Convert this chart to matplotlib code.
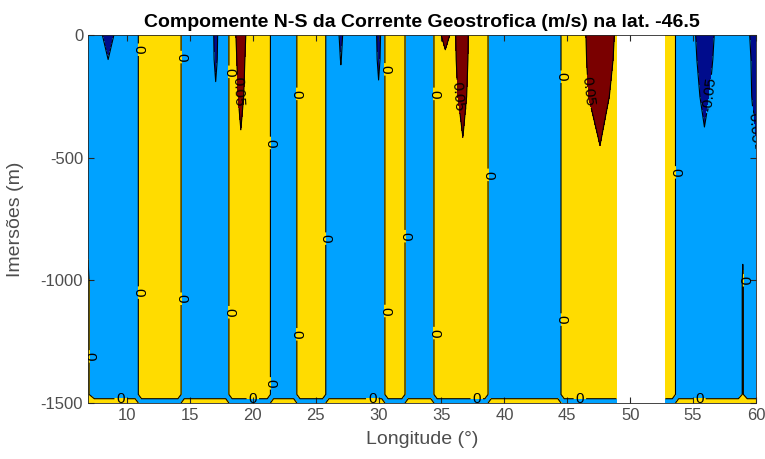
import numpy as np
import matplotlib
matplotlib.use("Agg")
import matplotlib.pyplot as plt

plt.rcParams['font.family'] = ['Liberation Sans', 'DejaVu Sans']
plt.rcParams['axes.unicode_minus'] = False

# station longitudes (deg E) along lat -46.5
lon = [6.9, 7.4, 8.0, 8.5, 9.0, 10.65, 11.15, 14.05, 14.55, 16.8,
       17.05, 17.3, 17.85, 18.35, 18.6, 19.05, 19.5, 21.15, 21.65, 23.25,
       23.75, 25.55, 26.05, 26.75, 27.0, 27.25, 29.75, 30.0, 30.25, 30.75,
       31.85, 32.35, 34.15, 34.65, 35.3, 35.9, 36.7, 37.3, 38.45, 38.95,
       44.25, 44.75, 46.0, 47.6, 48.9, 50.85, 52.8, 53.35, 53.85, 55.0,
       55.9, 56.9, 58.6, 58.95, 59.3, 59.6, 60.0]

# depth levels (m)
depth = [0, -100, -250, -500, -1000, -1465, -1500]

nan = np.nan
# N-S geostrophic velocity (m/s) at each depth level
v_0000 = [-0.02, -0.02, -0.04, -0.16, -0.04, -0.02, 0.02, 0.02, -0.02, -0.02,
          -0.10, -0.02, -0.02, 0.02, 0.04, 0.12, 0.04, 0.02, -0.02, -0.02,
          0.02, 0.02, -0.02, -0.02, -0.09, -0.02, -0.02, -0.10, -0.02, 0.02,
          0.02, -0.02, -0.02, 0.02, 0.08, 0.03, 0.10, 0.03, 0.02, -0.02,
          -0.02, 0.02, 0.02, 0.12, 0.04, nan, 0.02, 0.02, -0.02, -0.03,
          -0.12, -0.03, -0.02, -0.02, -0.03, -0.06, -0.10]
v_0100 = [-0.02, -0.02, -0.025, -0.05, -0.025, -0.02, 0.02, 0.02, -0.02, -0.02,
          -0.08, -0.02, -0.02, 0.02, 0.03, 0.10, 0.03, 0.02, -0.02, -0.02,
          0.02, 0.02, -0.02, -0.02, -0.055, -0.02, -0.02, -0.075, -0.02, 0.02,
          0.02, -0.02, -0.02, 0.02, 0.03, 0.03, 0.09, 0.03, 0.02, -0.02,
          -0.02, 0.02, 0.02, 0.11, 0.035, nan, 0.02, 0.02, -0.02, -0.025,
          -0.10, -0.025, -0.02, -0.02, -0.025, -0.05, -0.09]
v_0250 = [-0.02, -0.02, -0.02, -0.02, -0.02, -0.02, 0.02, 0.02, -0.02, -0.02,
          -0.03, -0.02, -0.02, 0.02, 0.02, 0.08, 0.02, 0.02, -0.02, -0.02,
          0.02, 0.02, -0.02, -0.02, -0.02, -0.02, -0.02, -0.03, -0.02, 0.02,
          0.02, -0.02, -0.02, 0.02, 0.02, 0.02, 0.08, 0.02, 0.02, -0.02,
          -0.02, 0.02, 0.02, 0.09, 0.02, nan, 0.02, 0.02, -0.02, -0.02,
          -0.07, -0.02, -0.02, -0.02, -0.02, -0.045, -0.08]
v_0500 = [-0.02, -0.02, -0.02, -0.02, -0.02, -0.02, 0.02, 0.02, -0.02, -0.02,
          -0.02, -0.02, -0.02, 0.02, 0.02, 0.025, 0.02, 0.02, -0.02, -0.02,
          0.02, 0.02, -0.02, -0.02, -0.02, -0.02, -0.02, -0.02, -0.02, 0.02,
          0.02, -0.02, -0.02, 0.02, 0.02, 0.02, 0.035, 0.02, 0.02, -0.02,
          -0.02, 0.02, 0.02, 0.04, 0.02, nan, 0.02, 0.02, -0.02, -0.02,
          -0.03, -0.02, -0.02, -0.02, -0.02, -0.03, -0.045]
v_1000 = [0.004, -0.02, -0.02, -0.02, -0.02, -0.02, 0.02, 0.02, -0.02, -0.02,
          -0.02, -0.02, -0.02, 0.02, 0.02, 0.02, 0.02, 0.02, -0.02, -0.02,
          0.02, 0.02, -0.02, -0.02, -0.02, -0.02, -0.02, -0.02, -0.02, 0.02,
          0.02, -0.02, -0.02, 0.02, 0.02, 0.02, 0.02, 0.02, 0.02, -0.02,
          -0.02, 0.02, 0.02, 0.02, 0.02, nan, 0.02, 0.02, -0.02, -0.02,
          -0.02, -0.02, -0.02, 0.003, -0.02, -0.02, -0.02]
v_1465 = [0.004, -0.02, -0.02, -0.02, -0.02, -0.02, 0.02, 0.02, -0.02, -0.02,
          -0.02, -0.02, -0.02, 0.02, 0.02, 0.02, 0.02, 0.02, -0.02, -0.02,
          0.02, 0.02, -0.02, -0.02, -0.02, -0.02, -0.02, -0.02, -0.02, 0.02,
          0.02, -0.02, -0.02, 0.02, 0.02, 0.02, 0.02, 0.02, 0.02, -0.02,
          -0.02, 0.02, 0.02, 0.02, 0.02, nan, 0.02, 0.02, -0.02, -0.02,
          -0.02, -0.02, -0.02, 0.003, -0.02, -0.02, -0.02]
v_1500 = [0.02, 0.02, 0.02, 0.02, 0.02, 0.02, -0.02, -0.02, 0.02, 0.02,
          0.02, 0.02, 0.02, -0.02, -0.02, -0.02, -0.02, -0.02, 0.02, 0.02,
          -0.02, -0.02, 0.02, 0.02, 0.02, 0.02, 0.02, 0.02, 0.02, -0.02,
          -0.02, 0.02, 0.02, -0.02, -0.02, -0.02, -0.02, -0.02, -0.02, 0.02,
          0.02, -0.02, -0.02, -0.02, -0.02, nan, -0.02, -0.02, 0.02, 0.02,
          0.02, 0.02, 0.02, 0.02, 0.02, 0.02, 0.02]

levels = [-1.0, -0.05, 0.0, 0.05, 1.0]
fill_colors = ['#000C8C', '#00A2FF', '#FFDC00', '#7A0000']

# where the contour labels sit (lon, depth)
label_spots = [(10.9, -60), (14.3, -90), (18.1, -150), (21.4, -440),
               (23.5, -240), (25.8, -830), (30.5, -140), (32.1, -820),
               (34.4, -240), (38.7, -570), (44.5, -170), (53.6, -560),
               (18.8, -230), (36.4, -250), (46.8, -230),
               (56.2, -240), (59.6, -370),
               (6.95, -1310), (10.9, -1050), (14.3, -1075), (18.1, -1130),
               (21.4, -1420), (23.5, -1220), (30.5, -1125), (34.4, -1215),
               (44.5, -1160), (58.95, -1000),
               (9.5, -1485), (20.0, -1485), (29.5, -1485), (37.8, -1485),
               (46.0, -1485), (55.5, -1485)]

vel = np.ma.masked_invalid(np.array([v_0000, v_0100, v_0250, v_0500,
                                     v_1000, v_1465, v_1500]))
X, Z = np.meshgrid(lon, depth)

fig = plt.figure(figsize=(7.65, 4.59), dpi=100)
ax = fig.add_axes([88 / 765, 1 - 403 / 459, 668 / 765, 368 / 459])

ax.contourf(X, Z, vel, levels=levels, colors=fill_colors)
cs = ax.contour(X, Z, vel, levels=[-0.05, 0.0, 0.05], colors='black',
                linewidths=0.8, linestyles='solid')
ax.clabel(cs, fmt={-0.05: '-0.05', 0.0: '0', 0.05: '0.05'},
          fontsize=11, inline=True, inline_spacing=2, manual=label_spots)

ax.set_xlim(6.9, 60)
ax.set_ylim(-1500, 0)
ax.set_xticks([10, 15, 20, 25, 30, 35, 40, 45, 50, 55, 60])
ax.set_yticks([-1500, -1000, -500, 0])
ax.tick_params(direction='in', top=True, right=True, length=4,
               labelsize=12, labelcolor='#4d4d4d', color='#262626')
for s in ax.spines.values():
    s.set_color('#262626')
    s.set_linewidth(0.6)

ax.set_title('Compomente N-S da Corrente Geostrofica (m/s) na lat. -46.5',
             fontsize=14, fontweight='bold', pad=6)
ax.set_xlabel('Longitude (°)', fontsize=14, color='#4d4d4d', labelpad=6)
ax.set_ylabel('Imersões (m)', fontsize=14, color='#4d4d4d', labelpad=12)

fig.savefig('out.png', dpi=100)
